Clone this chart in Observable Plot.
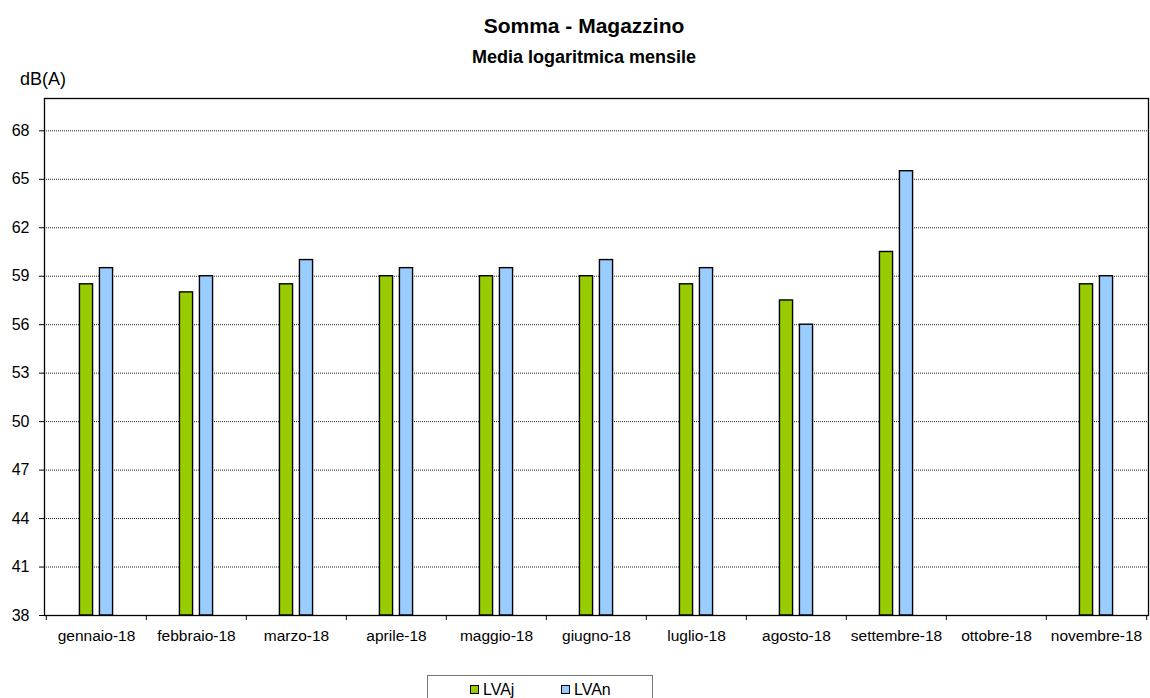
<!DOCTYPE html>
<html>
<head>
<meta charset="utf-8">
<script src="https://cdn.jsdelivr.net/npm/d3@7"></script>
<script src="https://cdn.jsdelivr.net/npm/@observablehq/plot@0.6"></script>
<style>
  html, body { margin: 0; padding: 0; background: #fff; }
  #chart { position: relative; width: 1150px; height: 698px; overflow: hidden; font-family: "Liberation Sans", Arial, sans-serif; color: #000; }
  .abs { position: absolute; white-space: nowrap; line-height: 1; }
  #title { left: 0; width: 1168px; text-align: center; top: 15px; font-size: 21px; font-weight: bold; }
  #subtitle { left: 0; width: 1168px; text-align: center; top: 48px; font-size: 18px; font-weight: bold; }
  #unit { left: 20px; top: 70px; font-size: 18px; }
  #legend { left: 427px; top: 675px; width: 224px; height: 40px; border: 1px solid #777; }
  .sw { position: absolute; width: 7px; height: 7px; border: 1px solid #000; top: 9px; }
  .lt { position: absolute; top: 6px; font-size: 16px; line-height: 1; }
  svg { position: absolute; left: 0; top: 0; }
</style>
</head>
<body>
<div id="chart">
  <div id="title" class="abs">Somma - Magazzino</div>
  <div id="subtitle" class="abs">Media logaritmica mensile</div>
  <div id="unit" class="abs">dB(A)</div>
  <div id="legend" class="abs"></div>
</div>
<script>
const months = ["gennaio-18", "febbraio-18", "marzo-18", "aprile-18", "maggio-18", "giugno-18", "luglio-18", "agosto-18", "settembre-18", "ottobre-18", "novembre-18"];
const seriesNames = ["LVAj", "LVAn"];
const lvaj = [58.5, 58.0, 58.5, 59.0, 59.0, 59.0, 58.5, 57.5, 60.5, null, 58.5];
const lvan = [59.5, 59.0, 60.0, 59.5, 59.5, 60.0, 59.5, 56.0, 65.5, null, 59.0];
const yTicks = [38, 41, 44, 47, 50, 53, 56, 59, 62, 65, 68];
const colors = ["#99CC00", "#99CCFF"];

const W = 1150, H = 660, mL = 44, mR = 2, mT = 98, mB = 45;
const step = (W - mL - mR) / months.length;
const barW = 13.5;
const inset = (step - barW) / 2;

const rows = [];
months.forEach((m, i) => {
  if (lvaj[i] != null) rows.push({month: m, series: seriesNames[0], value: lvaj[i]});
  if (lvan[i] != null) rows.push({month: m, series: seriesNames[1], value: lvan[i]});
});

const barOpts = (s, dx) => ({
  filter: d => d.series === s,
  x: "month",
  y1: () => 38,
  y2: "value",
  fill: colors[seriesNames.indexOf(s)],
  stroke: "#000",
  strokeWidth: 1.4,
  dx,
  insetLeft: inset,
  insetRight: inset
});

const chart = Plot.plot({
  width: W,
  height: H,
  marginLeft: mL,
  marginRight: mR,
  marginTop: mT,
  marginBottom: mB,
  style: {fontFamily: "'Liberation Sans', Arial, sans-serif", background: "transparent", color: "#000"},
  x: {domain: months, padding: 0},
  y: {domain: [38, 70]},
  marks: [
    Plot.gridY(yTicks.filter(t => t > 38), {stroke: "#000", strokeOpacity: 0.85, strokeDasharray: "1,1", strokeWidth: 1}),
    Plot.barY(rows, barOpts("LVAj", -10)),
    Plot.barY(rows, barOpts("LVAn", 10)),
    Plot.frame({stroke: "#000", strokeWidth: 1.3}),
    Plot.axisY({ticks: yTicks, tickSize: 5, tickPadding: 10, fontSize: 16, label: null, stroke: "#000"}),
    Plot.axisX({tickSize: 0, tickPadding: 14, fontSize: 15.5, label: null}),
    Plot.axisX({tickSize: 5, text: null, dx: -step / 2, label: null, stroke: "#000"}),
    Plot.axisX({ticks: [months[months.length - 1]], tickSize: 5, text: null, dx: step / 2, label: null, stroke: "#000"})
  ]
});
document.getElementById("chart").appendChild(chart);

const legend = document.getElementById("legend");
const swX = [42, 133], txX = [55, 146];
seriesNames.forEach((s, i) => {
  const sw = document.createElement("div");
  sw.className = "sw";
  sw.style.left = swX[i] + "px";
  sw.style.background = colors[i];
  legend.appendChild(sw);
  const t = document.createElement("div");
  t.className = "lt";
  t.style.left = txX[i] + "px";
  t.textContent = s;
  legend.appendChild(t);
});
</script>
</body>
</html>
